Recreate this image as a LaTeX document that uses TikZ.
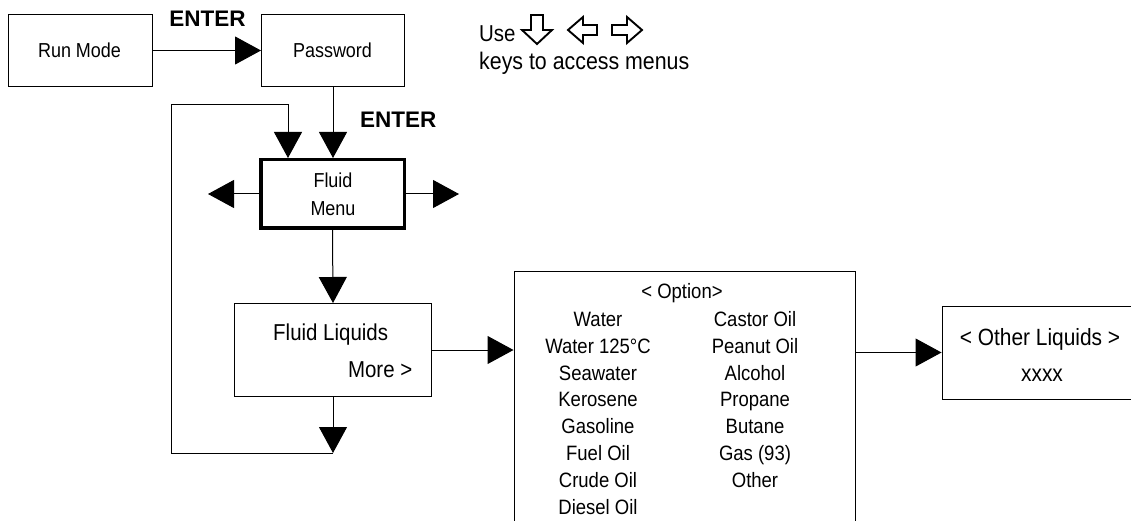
\documentclass[tikz,border=0pt]{standalone}
\usepackage{fontspec}
\setmainfont{Liberation Sans}[FakeStretch=0.89]
\newfontfamily\plainsans{Liberation Sans}
\usetikzlibrary{arrows.meta}
\begin{document}
\begin{tikzpicture}[x=1pt,y=-1pt,
  box/.style={draw, line width=1pt, rectangle, inner sep=0pt},
  txt/.style={inner sep=0pt, anchor=base},
  sm/.style={txt, font=\fontsize{20.2}{26}\selectfont},
  md/.style={txt, font=\fontsize{20.8}{26}\selectfont},
  lg/.style={txt, font=\fontsize{23}{26}\selectfont},
  lbl/.style={txt, font=\plainsans\bfseries\fontsize{22.5}{26}\selectfont},
  arr/.style={line width=1pt, -{Triangle[length=26pt,width=28pt]}},
  keyico/.style={line width=1.9pt, line join=miter}]
\useasboundingbox (0,0) rectangle (1131,521);

% boxes
\node[box, minimum width=144pt, minimum height=72pt] (rm) at (80.5,50.5) {};
\node[box, minimum width=143pt, minimum height=72pt] (pw) at (333,50.5) {};
\node[draw, line width=3.5pt, inner sep=0pt, minimum width=143.5pt, minimum height=68.5pt] (fm) at (332.5,194) {};
\node[box, minimum width=197pt, minimum height=93pt] (fl) at (333,350) {};
\node[box, minimum width=341pt, minimum height=300pt] (opt) at (684.5,421) {};
\node[box, minimum width=196pt, minimum height=93pt] (oth) at (1040,352.5) {};

% texts
\node[sm] (rmt) at (79.5,57.5) {Run Mode};
\node[sm] (pwt) at (332.5,57.5) {Password};
\node[sm] (fmt1) at (333,188) {Fluid};
\node[sm] (fmt2) at (333,215) {Menu};
\node[lg, anchor=base west] (flt) at (273,340) {Fluid Liquids};
\node[lg, anchor=base east] (flm) at (412.5,377) {More >};
\node[md] (optt) at (682,298.5) {< Option>};
\foreach \t [count=\i from 0] in {Water,{Water 125°C},Seawater,Kerosene,Gasoline,{Fuel Oil},{Crude Oil},{Diesel Oil}}
  \node[md] (la\i) at (598,326.5+26.8*\i) {\t};
\foreach \t [count=\i from 0] in {{Castor Oil},{Peanut Oil},Alcohol,Propane,Butane,{Gas (93)},Other}
  \node[md] (ra\i) at (755,326.5+26.8*\i) {\t};
\node[lg, font=\fontsize{23.5}{26}\selectfont] (otht) at (1040,345) {< Other Liquids >};
\node[lg, font=\fontsize{23.5}{26}\selectfont] (othx) at (1042,381.5) {xxxx};

% labels
\node[lbl] (en1) at (207.5,26.5) {ENTER};
\node[lbl, anchor=base west] (en2) at (360,128) {ENTER};
\node[lg, anchor=base west] (use) at (479,41.5) {Use};
\node[lg, anchor=base west, font=\fontsize{24}{26}\selectfont] (keys) at (479,70) {keys to access menus};

% key icons
\draw[keyico] (531,15) -- (543,15) -- (543,30) -- (552,30) -- (537,44) -- (522,30) -- (531,30) -- cycle;
\draw[keyico] (568,30) -- (583,17) -- (583,25) -- (597,25) -- (597,35) -- (583,35) -- (583,43) -- cycle;
\draw[keyico] (642,30) -- (627,17) -- (627,25) -- (612,25) -- (612,35) -- (627,35) -- (627,43) -- cycle;

% connectors
\coordinate (fml) at (208,194);
\coordinate (fmr) at (459,194);
\coordinate (lb) at (333,453);
\coordinate (lt) at (171,105);
\draw[arr] (rm.east) -- (pw.west);
\draw[arr] (pw.south) -- (pw.south |- fm.north);
\draw[arr] (fm.west) -- (fml);
\draw[arr] (fm.east) -- (fmr);
\draw[arr] (fm.south) -- (fl.north);
\draw[arr] (fl.south) -- (lb);
\draw[arr] (lb) -| (lt) -| ([xshift=-44.5pt]fm.north);
\draw[arr] (fl.east) -- (fl.east -| opt.west);
\draw[arr] (oth.west -| opt.east) -- (oth.west);
\end{tikzpicture}
\end{document}
